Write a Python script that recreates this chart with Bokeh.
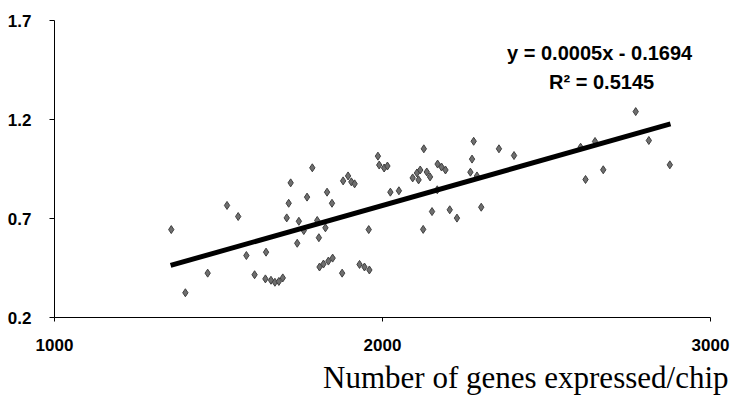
from bokeh.plotting import figure
from bokeh.models import FixedTicker, Label, Range1d, ColumnDataSource, Title
from bokeh.embed import file_html
from bokeh.resources import INLINE

# data
genes = [1356, 1399, 1467, 1526, 1560, 1585, 1645, 1610, 1643, 1660, 1672, 1684, 1696,
         1708, 1714, 1720, 1740, 1745, 1760, 1770, 1786, 1801, 1806, 1808, 1820, 1826,
         1831, 1835, 1846, 1848, 1877, 1880, 1895, 1905, 1915, 1930, 1945, 1958, 1960,
         1986, 1990, 2005, 2015, 2024, 2050, 2092, 2105, 2110, 2115, 2124, 2126, 2135,
         2145, 2151, 2167, 2168, 2180, 2192, 2205, 2227, 2268, 2273, 2278, 2288, 2301,
         2355, 2401, 2604, 2619, 2648, 2673, 2772, 2812, 2876]
values = [0.644, 0.325, 0.424, 0.766, 0.710, 0.513, 0.530, 0.416, 0.395, 0.388, 0.378, 0.382, 0.400,
          0.703, 0.777, 0.880, 0.575, 0.686, 0.639, 0.808, 0.956, 0.690, 0.603, 0.455, 0.470, 0.653,
          0.833, 0.485, 0.777, 0.500, 0.424, 0.890, 0.915, 0.885, 0.875, 0.468, 0.455, 0.644, 0.440,
          1.015, 0.970, 0.955, 0.965, 0.833, 0.840, 0.905, 0.930, 0.895, 0.945, 0.645, 1.052, 0.935,
          0.910, 0.735, 0.845, 0.975, 0.960, 0.945, 0.744, 0.702, 0.934, 1.000, 1.090, 0.915, 0.757,
          1.052, 1.018, 1.060, 0.897, 1.089, 0.946, 1.240, 1.094, 0.971]
trend_x = [1354, 2878]
trend_y = [0.463, 1.178]
x_ticks = [1000, 2000, 3000]
x_tick_labels = ["1000", "2000", "3000"]
y_ticks = [0.2, 0.7, 1.2, 1.7]
y_tick_labels = ["0.2", "0.7", "1.2", "1.7"]
equation_text = "y = 0.0005x - 0.1694"
r2_text = "R\u00b2 = 0.5145"
x_title = "Number of genes expressed/chip"

p = figure(width=741, height=405, output_backend="svg", toolbar_location=None,
           x_range=Range1d(1000, 3000), y_range=Range1d(0.2, 1.7),
           min_border_left=54, min_border_right=31, min_border_top=20, min_border_bottom=88)
p.outline_line_color = None
p.grid.visible = False
p.background_fill_color = "white"
p.border_fill_color = "white"

src = ColumnDataSource(dict(x=genes, y=values))
p.scatter("x", "y", source=src, marker="diamond", size=8,
          fill_color="#6e6e6e", line_color="#404040", line_width=1)
p.line(trend_x, trend_y, line_width=5, line_color="black")

for ax in (p.xaxis[0], p.yaxis[0]):
    ax.axis_line_color = "black"
    ax.axis_line_width = 1
    ax.major_tick_line_color = "black"
    ax.major_tick_in = 0
    ax.minor_tick_line_color = None
    ax.major_label_text_font = "Liberation Sans"
    ax.major_label_text_font_style = "bold"
    ax.major_label_text_font_size = "17px"
    ax.major_label_text_color = "black"

p.xaxis[0].ticker = FixedTicker(ticks=x_ticks)
p.xaxis[0].major_label_overrides = dict(zip(x_ticks, x_tick_labels))
p.xaxis[0].major_tick_out = 4
p.xaxis[0].major_label_standoff = 17

p.yaxis[0].ticker = FixedTicker(ticks=y_ticks)
p.yaxis[0].major_label_overrides = dict(zip(y_ticks, y_tick_labels))
p.yaxis[0].major_tick_out = 5
p.yaxis[0].major_label_standoff = 18

p.add_layout(Label(x=2662, y=1.538, text=equation_text, text_align="center",
                   text_baseline="middle", text_font="Liberation Sans",
                   text_font_style="bold", text_font_size="20px", text_color="black"))
p.add_layout(Label(x=2668, y=1.387, text=r2_text, text_align="center",
                   text_baseline="middle", text_font="Liberation Sans",
                   text_font_style="bold", text_font_size="20px", text_color="black"))
p.add_layout(Title(text=x_title, align="right", offset=-18, standoff=8,
                   text_font="Liberation Serif", text_font_style="normal",
                   text_font_size="31px", text_color="black"), "below")

open("out.html", "w").write(file_html(p, INLINE))
